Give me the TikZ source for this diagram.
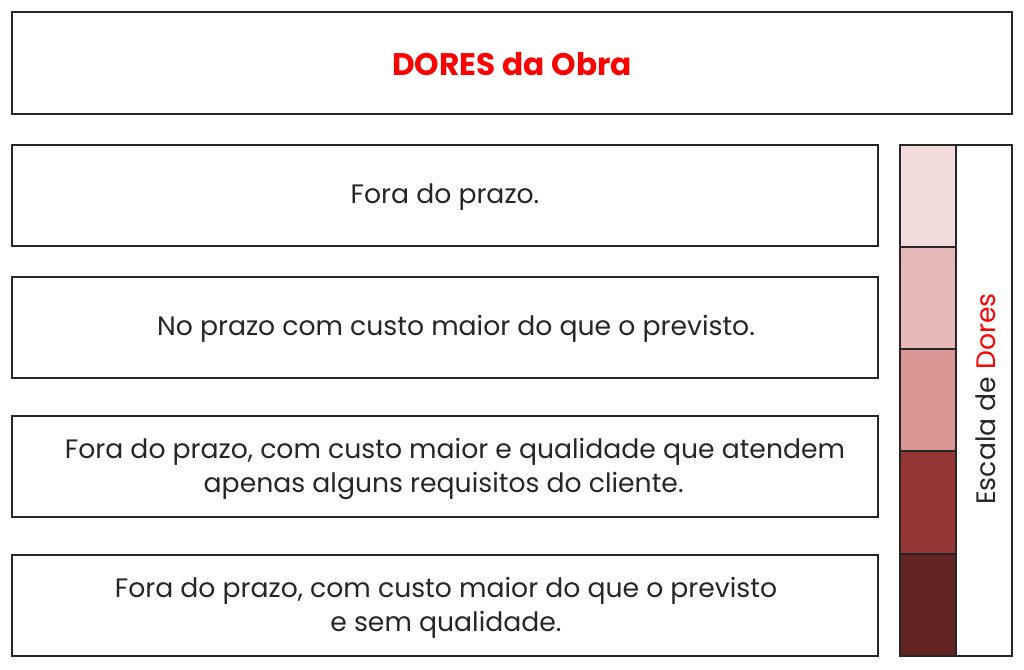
\documentclass[tikz,border=0pt]{standalone}
\usepackage{fontspec}
\setmainfont{Poppins}
\definecolor{c1}{HTML}{F2DCDB}
\definecolor{c2}{HTML}{E6B9B8}
\definecolor{c3}{HTML}{D99694}
\definecolor{c4}{HTML}{953735}
\definecolor{c5}{HTML}{632523}
\definecolor{dred}{HTML}{FF0000}
\begin{document}
\begin{tikzpicture}[x=0.75pt,y=-0.75pt,
  box/.style={draw=black!85,line width=1pt},
  txt/.style={font=\fontsize{20}{25.5}\selectfont,align=center,text=black!85},
  seg/.style={draw=black!85,line width=1pt}]
\useasboundingbox (0,0) rectangle (1024,669);
\fill[white] (0,0) rectangle (1024,669);
% title
\draw[box] (12,12) rectangle (1012,114);
\node[font=\fontsize{23.4}{28}\selectfont\bfseries,text=dred] (title) at (512,64) {DORES da Obra};
% boxes
\draw[box] (12,145) rectangle (878,246);
\node[txt] (b1) at (445,197) {Fora do prazo.};
\draw[box] (12,277) rectangle (878,378);
\node[txt] (b2) at (456,329) {No prazo com custo maior do que o previsto.};
\draw[box] (12,416) rectangle (878,517);
\node[txt] (b3) at (447,469) {Fora do prazo, com custo maior e qualidade que atendem\hspace*{-12pt}\\apenas alguns requisitos do cliente.\hspace*{5pt}};
\draw[box] (12,555) rectangle (878,656);
\node[txt] (b4) at (446,608) {Fora do prazo, com custo maior do que o previsto\\e sem qualidade.};
% scale
\draw[seg,fill=c1] (900,145) rectangle (956,247);
\draw[seg,fill=c2] (900,247) rectangle (956,349);
\draw[seg,fill=c3] (900,349) rectangle (956,451);
\draw[seg,fill=c4] (900,451) rectangle (956,554);
\draw[seg,fill=c5] (900,554) rectangle (956,656);
\draw[box] (956,145) rectangle (1012,656);
\node[txt,rotate=90] (esc) at (986,399) {Escala de \textcolor{dred}{Dores}};
\end{tikzpicture}
\end{document}
